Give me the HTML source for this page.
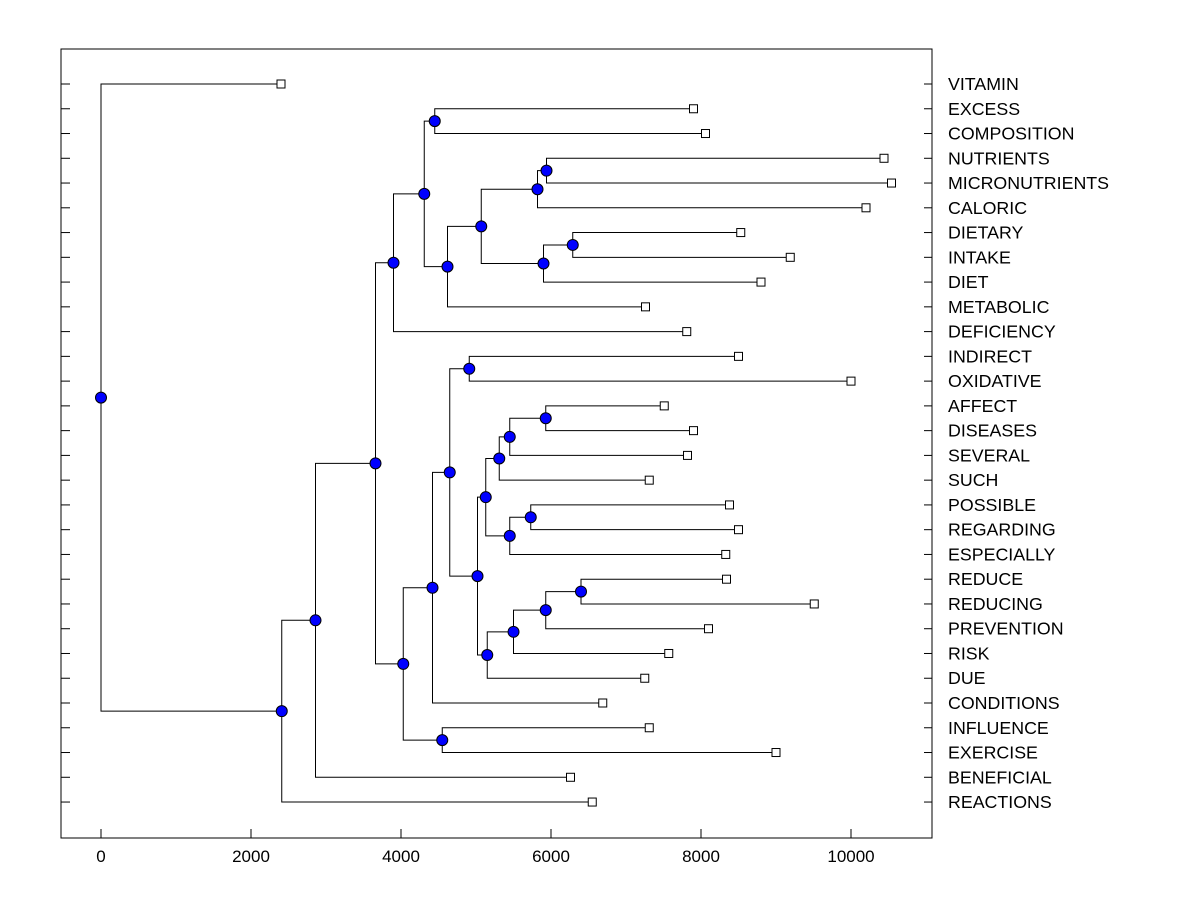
<!DOCTYPE html>
<html><head><meta charset="utf-8"><style>
body{margin:0;background:#fff;}
svg{display:block;}
text{font-family:"Liberation Sans",Arial,sans-serif;}
</style></head><body>
<svg id="chart" width="1200" height="900"></svg>
<script>
const labels=["VITAMIN","EXCESS","COMPOSITION","NUTRIENTS","MICRONUTRIENTS","CALORIC","DIETARY","INTAKE","DIET","METABOLIC","DEFICIENCY","INDIRECT","OXIDATIVE","AFFECT","DISEASES","SEVERAL","SUCH","POSSIBLE","REGARDING","ESPECIALLY","REDUCE","REDUCING","PREVENTION","RISK","DUE","CONDITIONS","INFLUENCE","EXERCISE","BENEFICIAL","REACTIONS"];
const leafValues=[2400,7900,8060,10440,10540,10200,8530,9190,8800,7260,7810,8500,10000,7510,7900,7820,7310,8380,8500,8330,8340,9510,8100,7570,7250,6690,7310,9000,6260,6550];
// merges: [id, childA, childB, height]; children are leaf names or node ids
const merges=[
["H","EXCESS","COMPOSITION",4450],
["M","NUTRIENTS","MICRONUTRIENTS",5940],
["K","M","CALORIC",5820],
["N","DIETARY","INTAKE",6290],
["L","N","DIET",5900],
["J","K","L",5070],
["I","J","METABOLIC",4620],
["G","H","I",4310],
["E","G","DEFICIENCY",3900],
["R","INDIRECT","OXIDATIVE",4910],
["Y","AFFECT","DISEASES",5930],
["X","Y","SEVERAL",5450],
["V","X","SUCH",5310],
["Z","POSSIBLE","REGARDING",5730],
["W","Z","ESPECIALLY",5450],
["T","V","W",5130],
["CC","REDUCE","REDUCING",6400],
["BB","CC","PREVENTION",5930],
["AA","BB","RISK",5500],
["U","AA","DUE",5150],
["S","T","U",5020],
["Q","R","S",4650],
["O","Q","CONDITIONS",4420],
["P","INFLUENCE","EXERCISE",4550],
["F","O","P",4030],
["D","E","F",3660],
["C","D","BENEFICIAL",2860],
["A","C","REACTIONS",2410],
["ROOT","VITAMIN","A",0]
];
const xTicks=[0,2000,4000,6000,8000,10000];

const svg=document.getElementById('chart');
const NS='http://www.w3.org/2000/svg';
const L=61,R=932,T=49,B=838;
const xs=v=>101+v*0.075;
const ys=i=>84+i*24.76;
function mk(tag,attrs,parent){const e=document.createElementNS(NS,tag);for(const k in attrs)e.setAttribute(k,attrs[k]);(parent||svg).appendChild(e);return e;}

const frame=mk('rect',{x:L,y:T,width:R-L,height:B-T,fill:'none',stroke:'#000','stroke-width':1});



xTicks.forEach(v=>{
  const t=mk('line',{x1:xs(v),x2:xs(v),y1:B,y2:B-9,stroke:'#000'});
  
  
  const tx=mk('text',{x:xs(v),y:862,'text-anchor':'middle','font-size':17});
  tx.textContent=v;
  
  
});

const pos={};
labels.forEach((n,i)=>{pos[n]={x:xs(leafValues[i]),y:ys(i)};
  const a=mk('line',{x1:L,x2:L+9,y1:ys(i),y2:ys(i),stroke:'#000'});
  
  
  const b=mk('line',{x1:R-8,x2:R,y1:ys(i),y2:ys(i),stroke:'#000'});
  
  
  const t=mk('text',{x:948,y:ys(i)+6,'font-size':17.8});
  t.textContent=n;
  
  
});

const g=mk('g',{stroke:'#000','stroke-width':1,fill:'none'});


const dots=[];
merges.forEach(([id,a,b,h])=>{
  const x=xs(h),pa=pos[a],pb=pos[b];
  const p=mk('path',{d:`M${pa.x},${pa.y}H${x}V${pb.y}H${pb.x}`},g);
  
  
  pos[id]={x:x,y:(pa.y+pb.y)/2};
  dots.push(pos[id]);
});
labels.forEach(n=>{
  const s=mk('rect',{x:pos[n].x-4,y:pos[n].y-4,width:8,height:8,fill:'#fff',stroke:'#000'});
  
  
});
dots.forEach(d=>{
  const c=mk('circle',{cx:d.x,cy:d.y,r:5.5,fill:'#0000ff',stroke:'#000','stroke-width':1});
  
  
});
</script>
</body></html>
